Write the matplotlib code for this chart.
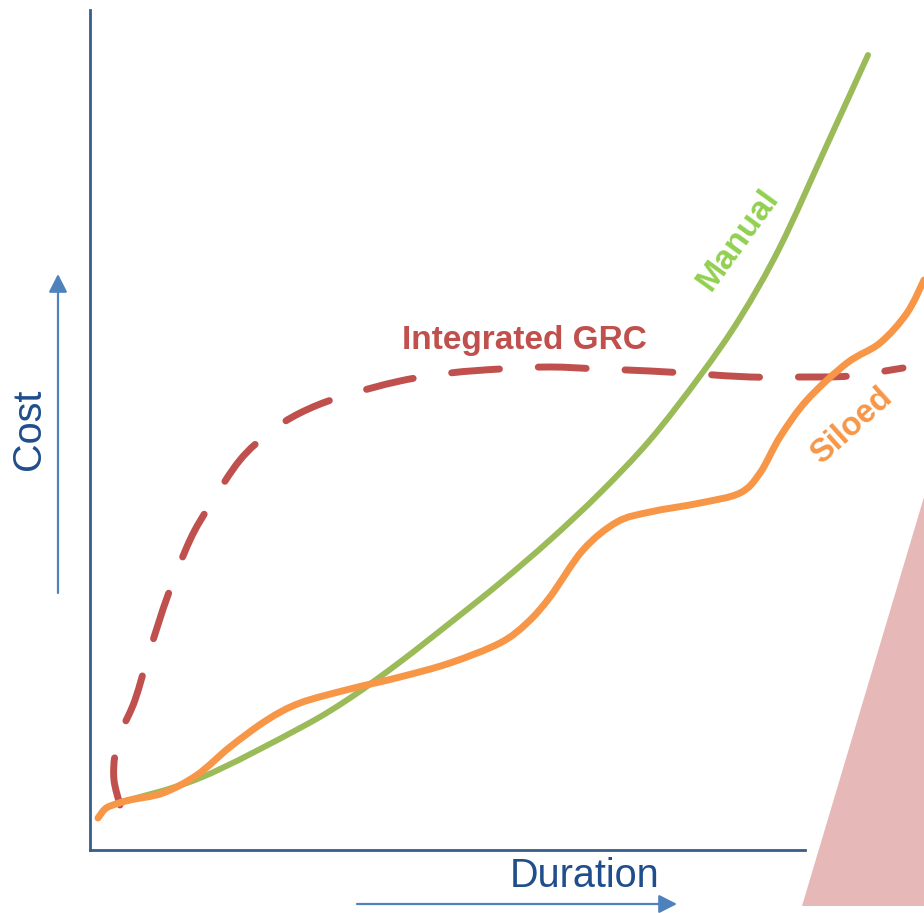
import matplotlib
matplotlib.use("Agg")
import numpy as np
import matplotlib.pyplot as plt
from matplotlib.patches import FancyArrowPatch, PathPatch
from matplotlib.path import Path

plt.rcParams['font.family'] = ['Liberation Sans', 'DejaVu Sans']

# ---- data (conceptual units: duration on x, cost on y) ----
manual_x = [28, 110, 210, 260, 310, 360, 410, 460, 510, 560, 610, 650, 690, 736, 778]
manual_y = [47, 72, 122, 152, 188, 227, 267, 310, 357, 410, 474, 532, 603, 703, 795]

siloed_x = [8, 15, 23, 40, 73, 107, 140, 177, 210, 260, 310, 360, 410, 437, 460, 493,
            527, 560, 610, 650, 670, 690, 717, 757, 790, 817, 834]
siloed_y = [32, 41, 45, 50, 57, 75, 103, 130, 147, 161, 173, 187, 207, 227, 253, 300,
            328, 338, 347, 357, 377, 413, 450, 487, 507, 537, 570]

grc_x = [30, 24, 25, 32, 45, 60, 78, 100, 120, 150, 180, 210, 250, 310, 360, 410,
         460, 510, 560, 610, 660, 710, 760, 813]
grc_y = [45, 70, 95, 120, 150, 200, 255, 310, 345, 390, 418, 437, 453, 469, 477, 481,
         483, 481, 479, 476, 473, 473, 474, 482]

triangle_x = [834, 712, 834]
triangle_y = [353, -56, -56]

labels = {"grc": "Integrated GRC", "manual": "Manual", "siloed": "Siloed",
          "x": "Duration", "y": "Cost"}


def smooth_path(xs, ys):
    """Smooth curve through the given points (Catmull-Rom as cubic Beziers)."""
    pts = np.column_stack([xs, ys]).astype(float)
    n = len(pts)
    verts = [pts[0]]
    codes = [Path.MOVETO]
    for i in range(n - 1):
        p0 = pts[max(i - 1, 0)]
        p1 = pts[i]
        p2 = pts[i + 1]
        p3 = pts[min(i + 2, n - 1)]
        verts += [p1 + (p2 - p0) / 6.0, p2 - (p3 - p1) / 6.0, p2]
        codes += [Path.CURVE4] * 3
    return Path(verts, codes)


# ---- figure ----
W, H = 924, 913
fig = plt.figure(figsize=(W / 100, H / 100), dpi=100)
ax = fig.add_axes([90 / W, (H - 850) / H, 715 / W, 840 / H])
ax.set_xlim(0, 715)
ax.set_ylim(0, 840)
ax.set_xticks([])
ax.set_yticks([])
for s in ("top", "right"):
    ax.spines[s].set_visible(False)
for s in ("left", "bottom"):
    ax.spines[s].set_color("#385D8A")
    ax.spines[s].set_linewidth(2.0)
ax.patch.set_alpha(0)

red = "#C0504D"
green = "#9BBB59"
orange = "#F79646"

ax.fill(triangle_x, triangle_y, color="#E6B9B8", clip_on=False, zorder=1, lw=0)

ax.add_patch(PathPatch(smooth_path(grc_x, grc_y), fill=False, edgecolor=red, lw=5,
                       linestyle=(0, (6.9, 5.6)), capstyle="round", joinstyle="round",
                       clip_on=False, zorder=3))
ax.add_patch(PathPatch(smooth_path(manual_x, manual_y), fill=False, edgecolor=green,
                       lw=4.3, capstyle="round", joinstyle="round", clip_on=False, zorder=4))
ax.add_patch(PathPatch(smooth_path(siloed_x, siloed_y), fill=False, edgecolor=orange,
                       lw=5, capstyle="round", joinstyle="round", clip_on=False, zorder=5))

ax.text(434, 501, labels["grc"], color=red, fontsize=24, fontweight="bold",
        ha="center", va="baseline", clip_on=False)
ax.text(648, 610, labels["manual"], color="#92D050", fontsize=24.5, fontweight="bold",
        ha="center", va="center", rotation=54, clip_on=False)
ax.text(762, 424, labels["siloed"], color=orange, fontsize=23.5, fontweight="bold",
        ha="center", va="center", rotation=42, clip_on=False)

ax.text(495, -37, labels["x"], color="#1F4E8C", fontsize=28.5, ha="center",
        va="baseline", clip_on=False)
ax.text(-61, 421, labels["y"], color="#1F4E8C", fontsize=28.5, ha="center",
        va="center", rotation=90, clip_on=False)

arrow_style = "-|>,head_length=0.55,head_width=0.28"
for (x0, y0), (x1, y1) in [((-32, 257), (-32, 576)), ((267, -54), (587, -54))]:
    a = FancyArrowPatch((x0, y0), (x1, y1), arrowstyle=arrow_style, mutation_scale=20,
                        color="#4F81BD", lw=1.6, shrinkA=0, shrinkB=0, clip_on=False)
    ax.add_patch(a)

fig.savefig("out.png", dpi=100)
